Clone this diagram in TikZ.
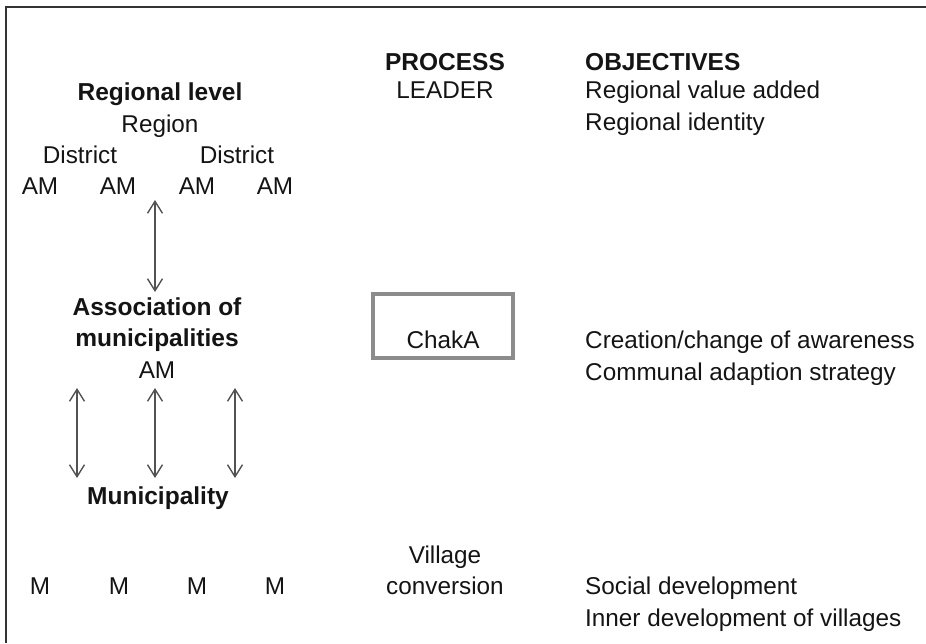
\documentclass[tikz,border=0pt]{standalone}
\usepackage{fontspec}
\setmainfont{Liberation Sans}
\usetikzlibrary{arrows.meta}
\begin{document}
\begin{tikzpicture}[x=1pt,y=-1pt,
  txt/.style={inner sep=0pt, anchor=base, font=\fontsize{24.3}{29}\selectfont, text=black!92},
  hd/.style={txt, font=\fontsize{24.5}{29}\selectfont\bfseries},
  lft/.style={txt, anchor=base west},
  hdl/.style={hd, anchor=base west},
  link/.style={draw=black!68, line width=1.4pt, {Straight Barb[length=12pt,width=15pt]}-{Straight Barb[length=12pt,width=15pt]}},
  chakbox/.style={draw=black!45, line width=4pt, minimum width=140pt, minimum height=64pt, inner sep=0pt}
]
\useasboundingbox (0,0) rectangle (926,643);
\draw[line width=2pt, black!80] (6,643) -- (6,7) -- (926,7);

% headings
\node[hd] (process) at (445,70) {PROCESS};
\node[hdl] (objectives) at (585,70) {OBJECTIVES};

% left hierarchy
\node[hd] (reglevel) at (160,100) {Regional level};
\node[txt] (region) at (160,132) {Region};
\node[txt] (distA) at (80,163) {District};
\node[txt] (distB) at (237,163) {District};
\node[txt] (am1) at (40,194) {AM};
\node[txt] (am2) at (118,194) {AM};
\node[txt] (am3) at (197,194) {AM};
\node[txt] (am4) at (275,194) {AM};

\node[hd] (assoc1) at (157,315) {Association of};
\node[hd] (assoc2) at (157,346) {municipalities};
\node[txt] (amc) at (157,378) {AM};

\node[hd] (munic) at (158,504) {Municipality};

\node[txt] (m1) at (40,594) {M};
\node[txt] (m2) at (119,594) {M};
\node[txt] (m3) at (197,594) {M};
\node[txt] (m4) at (275,594) {M};

% arrows
\coordinate (t1) at (155,200); \coordinate (b1) at (155,292);
\draw[link] (t1) -- (b1);
\coordinate (t2) at (77,388); \coordinate (b2) at (77,478);
\coordinate (t3) at (155,388); \coordinate (b3) at (155,478);
\coordinate (t4) at (235,388); \coordinate (b4) at (235,478);
\draw[link] (t2) -- (b2);
\draw[link] (t3) -- (b3);
\draw[link] (t4) -- (b4);

% process column
\node[txt] (leader) at (445,98) {LEADER};
\node[chakbox] (box) at (443,326) {};
\node[txt] (chaka) at (443,348) {ChakA};
\node[txt] (village) at (445,563) {Village};
\node[txt] (conversion) at (445,594) {conversion};

% objectives column
\node[lft] (o1) at (585,98) {Regional value added};
\node[lft] (o2) at (585,130) {Regional identity};
\node[lft] (o3) at (585,348) {Creation/change of awareness};
\node[lft] (o4) at (585,380) {Communal adaption strategy};
\node[lft] (o5) at (585,594) {Social development};
\node[lft] (o6) at (585,626) {Inner development of villages};
\end{tikzpicture}
\end{document}
